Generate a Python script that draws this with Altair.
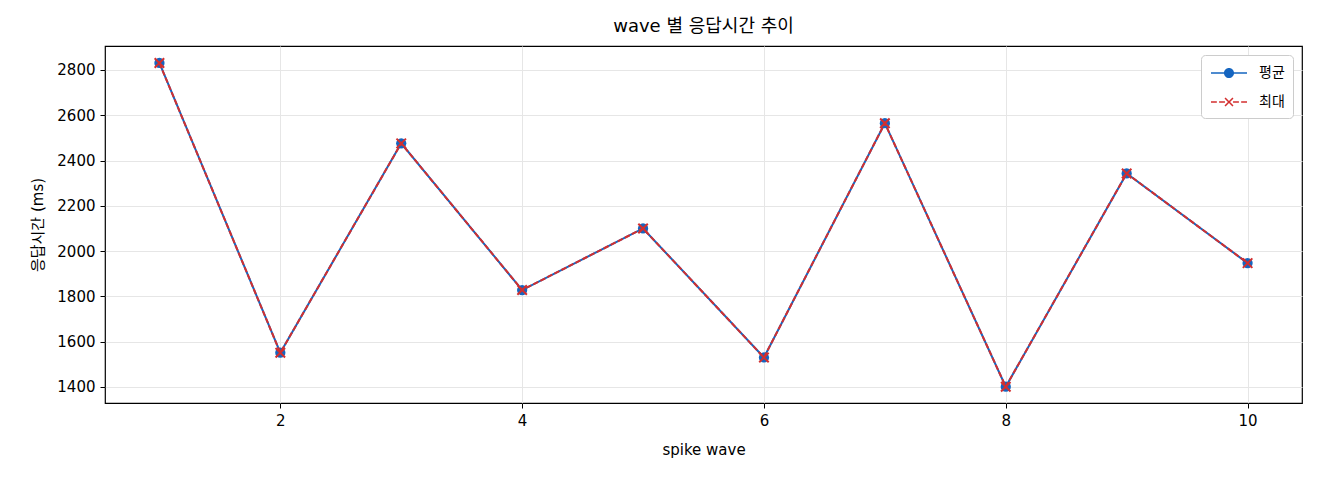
import pandas as pd
import altair as alt

# wave 별 응답시간 (ms)
waves = [1, 2, 3, 4, 5, 6, 7, 8, 9, 10]
avg_ms = [2831, 1551, 2476, 1828, 2100, 1530, 2565, 1401, 2343, 1947]
max_ms = [2831, 1551, 2476, 1828, 2100, 1530, 2565, 1401, 2343, 1947]
series_names = ["평균", "최대"]

blue = "#1565c0"
red = "#d32f2f"
font = "DejaVu Sans, Noto Sans CJK KR"

df = pd.DataFrame({"wave": waves, "avg": avg_ms, "max": max_ms})

x_enc = alt.X("wave:Q", title="spike wave",
              scale=alt.Scale(domain=[0.55, 10.45], nice=False, zero=False),
              axis=alt.Axis(values=[2, 4, 6, 8, 10], format="d"))


def y_enc(field):
    return alt.Y(f"{field}:Q", title="응답시간 (ms)",
                 scale=alt.Scale(domain=[1329, 2906], nice=False, zero=False),
                 axis=alt.Axis(values=list(range(1400, 2801, 200)), format="d"))


base = alt.Chart(df)

avg_line = base.mark_line(color=blue, strokeWidth=2).encode(x=x_enc, y=y_enc("avg"))
avg_pts = base.mark_point(filled=True, shape="circle", size=105, color=blue, opacity=1).encode(
    x=x_enc, y=y_enc("avg"))
max_line = base.mark_line(color=red, strokeWidth=2, strokeDash=[5.5, 2.4]).encode(
    x=x_enc, y=y_enc("max"))
max_pts = base.mark_point(filled=False, shape="M-1,-1L1,1M-1,1L1,-1", size=90,
                          color=red, strokeWidth=2, opacity=1).encode(x=x_enc, y=y_enc("max"))

# legend only: line + marker drawn as one filled symbol path each
avg_sym = ("M-2,-0.09H-0.5V0.09H-2Z M0.5,-0.09H2V0.09H0.5Z "
           "M0.56,0A0.56,0.56 0 1,1 -0.56,0A0.56,0.56 0 1,1 0.56,0Z")
max_sym = ("M-2,-0.09H-1.35V0.09H-2Z M-1.1,-0.09H-0.45V0.09H-1.1Z "
           "M0.45,-0.09H1.1V0.09H0.45Z M1.35,-0.09H2V0.09H1.35Z "
           "M-0.5,-0.38L-0.38,-0.5L0,-0.12L0.38,-0.5L0.5,-0.38L0.12,0"
           "L0.5,0.38L0.38,0.5L0,0.12L-0.38,0.5L-0.5,0.38L-0.12,0Z")
legend_df = pd.DataFrame({"series": series_names, "wave": [1, 1], "avg": [2000, 2000]})
legend_layer = alt.Chart(legend_df).transform_filter("false").mark_point(
    filled=True, opacity=1).encode(
    x=x_enc, y=y_enc("avg"),
    color=alt.Color("series:N", title=None,
                    scale=alt.Scale(domain=series_names, range=[blue, red]),
                    legend=alt.Legend(orient="top-right", offset=9, padding=8,
                                      fillColor="white", strokeColor="#cccccc",
                                      cornerRadius=4, symbolSize=324, symbolOffset=10,
                                      labelOffset=20, rowPadding=10, symbolOpacity=1,
                                      labelFontSize=14, labelColor="black", labelFont=font)),
    shape=alt.Shape("series:N", scale=alt.Scale(domain=series_names, range=[avg_sym, max_sym]),
                    legend=alt.Legend(orient="top-right")),
)

chart = alt.layer(avg_line, avg_pts, max_line, max_pts, legend_layer).properties(
    width=1197, height=357,
    title=alt.TitleParams("wave 별 응답시간 추이", fontSize=18, fontWeight="normal",
                          font=font, color="black", offset=10),
    autosize=alt.AutoSizeParams(type="none"),
    padding={"left": 97, "top": 38, "right": 10, "bottom": 60},
).configure_view(
    stroke="black", strokeWidth=1.2
).configure_axis(
    labelFont=font, titleFont=font, labelFontSize=15, titleFontSize=15,
    labelColor="black", titleColor="black", titleFontWeight="normal",
    domain=False, tickColor="black", tickSize=5, labelPadding=5,
    gridColor="#e6e6e6", gridWidth=1,
).configure_axisY(
    titlePadding=11
).configure_axisX(
    titlePadding=14, labelFlush=False
)

chart.save("out.html", embed_options={"renderer": "svg", "actions": False})
